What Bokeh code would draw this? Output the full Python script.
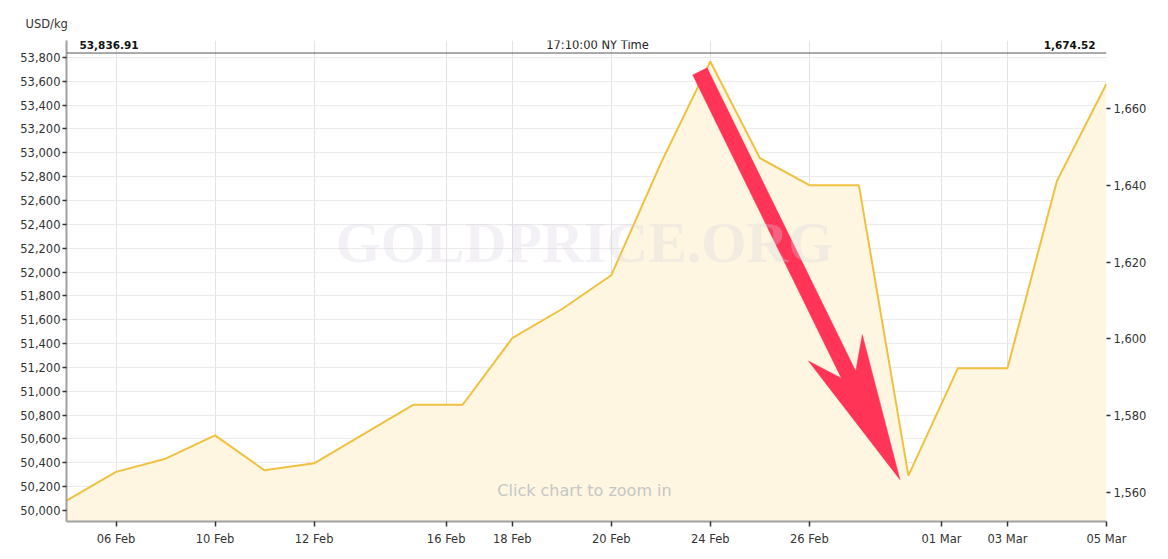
import datetime as dt
import numpy as np
from bokeh.plotting import figure
from bokeh.models import (Range1d, LinearAxis, FixedTicker, NumeralTickFormatter,
                          Span, Label)
from bokeh.embed import file_html
from bokeh.resources import INLINE

# ---------------- data ----------------
dates = ["2020-02-05", "2020-02-06", "2020-02-07", "2020-02-10", "2020-02-11",
         "2020-02-12", "2020-02-13", "2020-02-14", "2020-02-17", "2020-02-18",
         "2020-02-19", "2020-02-20", "2020-02-21", "2020-02-24", "2020-02-25",
         "2020-02-26", "2020-02-27", "2020-02-28", "2020-03-02", "2020-03-03",
         "2020-03-04", "2020-03-05"]
usd_kg = [50084, 50324, 50435, 50630, 50337, 50396, 50640, 50887, 50887, 51445,
          51688, 51973, 52911, 53766, 52956, 52729, 52729, 50293, 51194, 51194,
          52765, 53580]
tick_dates = ["2020-02-06", "2020-02-10", "2020-02-12", "2020-02-16", "2020-02-18",
              "2020-02-20", "2020-02-24", "2020-02-26", "2020-03-01", "2020-03-03",
              "2020-03-05"]
tick_labels = ["06 Feb", "10 Feb", "12 Feb", "16 Feb", "18 Feb", "20 Feb",
               "24 Feb", "26 Feb", "01 Mar", "03 Mar", "05 Mar"]
left_ticks = [50000, 50200, 50400, 50600, 50800, 51000, 51200, 51400, 51600, 51800,
              52000, 52200, 52400, 52600, 52800, 53000, 53200, 53400, 53600, 53800]
right_ticks = [1560, 1580, 1600, 1620, 1640, 1660]
current_kg = 53836.91
current_oz_text = "1,674.52"
current_kg_text = "53,836.91"
time_text = "17:10:00 NY Time"
unit_text = "USD/kg"
watermark_text = "GOLDPRICE.ORG"
zoom_text = "Click chart to zoom in"
arrow_from = (12.79, 53683)   # (trading-day index, USD/kg)
arrow_to = (16.83, 50259)
y_lo, y_hi = 49908, 53942
GRAMS_PER_OZ = 31.1034768

# ---------------- derived ----------------
idx = list(range(len(dates)))
ords = [dt.date.fromisoformat(d).toordinal() for d in dates]
tick_pos = [float(np.interp(dt.date.fromisoformat(d).toordinal(), ords, idx)) for d in tick_dates]
kg_per_oz = 1000.0 / GRAMS_PER_OZ

W, H = 1160, 548
ML, MR, MT, MB = 66, 54, 40, 26
FW, FH = W - ML - MR, H - MT - MB

FONT = "DejaVu Sans"
LBL = "11.5px"

p = figure(width=W, height=H, output_backend="svg", toolbar_location=None,
           x_range=Range1d(0, len(dates) - 1), y_range=Range1d(y_lo, y_hi),
           min_border_left=ML, min_border_right=MR, min_border_top=MT,
           min_border_bottom=MB, background_fill_color="white",
           border_fill_color="white", outline_line_color=None,
           title=unit_text)
p.title.align = "left"
p.title.offset = -41
p.title.text_font = FONT
p.title.text_font_size = LBL
p.title.text_font_style = "normal"
p.title.text_color = "#333333"
p.title.standoff = 19
p.extra_y_ranges = {"oz": Range1d(y_lo / kg_per_oz, y_hi / kg_per_oz)}

# x axis
xt = FixedTicker(ticks=tick_pos)
p.xaxis.ticker = xt
p.xaxis.major_label_overrides = {t: l for t, l in zip(tick_pos, tick_labels)}
p.xaxis.axis_line_color = "#a0a0a0"
p.xaxis.axis_line_width = 2
p.xaxis.major_tick_line_color = "#333333"
p.xaxis.major_tick_line_width = 1.5
p.xaxis.major_tick_in = 0
p.xaxis.major_tick_out = 5
p.xaxis.minor_tick_line_color = None
p.xaxis.major_label_text_font = FONT
p.xaxis.major_label_text_font_size = LBL
p.xaxis.major_label_text_color = "#333333"
p.xaxis.major_label_standoff = 5

# left axis
lt = FixedTicker(ticks=left_ticks)
p.yaxis.ticker = lt
p.yaxis.formatter = NumeralTickFormatter(format="0,0")
p.yaxis.axis_line_color = "#a0a0a0"
p.yaxis.axis_line_width = 2
p.yaxis.major_tick_line_color = "#333333"
p.yaxis.major_tick_line_width = 1.5
p.yaxis.major_tick_in = 0
p.yaxis.major_tick_out = 4
p.yaxis.minor_tick_line_color = None
p.yaxis.major_label_text_font = FONT
p.yaxis.major_label_text_font_size = LBL
p.yaxis.major_label_text_color = "#333333"
p.yaxis.major_label_standoff = 2

# right axis
ra = LinearAxis(y_range_name="oz", ticker=FixedTicker(ticks=right_ticks),
                formatter=NumeralTickFormatter(format="0,0"))
ra.axis_line_color = None
ra.major_tick_line_color = "#333333"
ra.major_tick_line_width = 1.5
ra.major_tick_in = 0
ra.major_tick_out = 4
ra.minor_tick_line_color = None
ra.major_label_text_font = FONT
ra.major_label_text_font_size = LBL
ra.major_label_text_color = "#333333"
ra.major_label_standoff = 3
p.add_layout(ra, "right")

# grids
p.xgrid.ticker = xt
p.xgrid.grid_line_color = "#e4e1ea"
p.ygrid.ticker = lt
p.ygrid.grid_line_color = "#ebebeb"

# area
p.varea(x=idx, y1=y_lo, y2=usd_kg, fill_color="#fef6e0")

# watermark
p.add_layout(Label(x=FW * 0.4981, y=279, x_units="screen", y_units="screen",
                   text=watermark_text, text_font="Liberation Serif",
                   text_font_style="bold", text_font_size="58px",
                   text_color="#d6d2de", text_alpha=0.3,
                   text_align="center", text_baseline="middle"))

# line
p.line(idx, usd_kg, line_color="#f0c040", line_width=2)

# current price line
p.add_layout(Span(location=current_kg, dimension="width", line_color="#555555",
                  line_width=1))

# arrow annotation (built in screen-proportional space, mapped back to data)
sx = FW / (len(dates) - 1)
sy = FH / (y_hi - y_lo)
a0 = np.array([arrow_from[0] * sx, arrow_from[1] * sy])
a1 = np.array([arrow_to[0] * sx, arrow_to[1] * sy])
L = np.linalg.norm(a1 - a0)
u = (a1 - a0) / L
n = np.array([-u[1], u[0]])
shape = [(0, -8), (0.743 * L, -8), (0.677 * L, -30), (L, 0),
         (0.677 * L, 30), (0.743 * L, 8), (0, 8)]
pts = [a0 + a * u + s * n for a, s in shape]
p.patch([q[0] / sx for q in pts], [q[1] / sy for q in pts],
        fill_color="#ff3457", line_color="#ff3457", line_width=0.5)


# texts
def lab(x, y, text, **kw):
    base = dict(x_units="screen", y_units="screen", text_font=FONT,
                text_font_size=LBL, text_color="#333333", text_baseline="middle")
    base.update(kw)
    p.add_layout(Label(x=x, y=y, text=text, **base))


lab(13, 477, current_kg_text, text_align="left", text_font_style="bold",
    text_color="#111111", text_font_size="10.5px")
lab(1029, 477, current_oz_text, text_align="right", text_font_style="bold",
    text_color="#111111", text_font_size="10.5px")
lab(531, 477, time_text, text_align="center", text_color="#222222")
lab(518, 31, zoom_text, text_align="center", text_font_size="16px", text_color="#c6c6c6")

open("out.html", "w").write(file_html(p, INLINE))
